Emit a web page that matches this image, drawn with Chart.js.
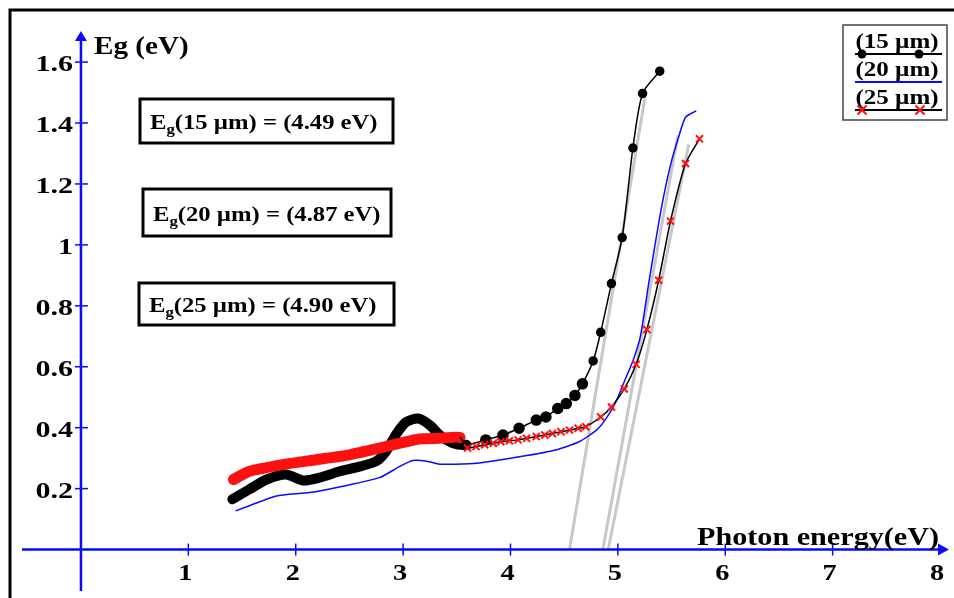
<!DOCTYPE html>
<html>
<head>
<meta charset="utf-8">
<script src="https://cdn.jsdelivr.net/npm/chart.js@4.4.1/dist/chart.umd.min.js"></script>
<style>
  body { margin: 0; background: #fff; }
  #wrap { width: 954px; height: 598px; position: relative; }
</style>
</head>
<body>
<div id="wrap"><canvas id="chartCanvas" width="954" height="598"></canvas></div>
<script>
// series: photon energy (eV) vs Eg (eV)
let seriesNames = ['(15 µm)', '(20 µm)', '(25 µm)'];
let gapValues = ['4.49', '4.87', '4.90'];
let boxThick = ['15 µm', '20 µm', '25 µm'];

let x15 = [1.41, 1.57, 1.73, 1.91, 2.07, 2.22, 2.41, 2.60, 2.75, 2.84, 2.94, 3.03, 3.14, 3.25, 3.34, 3.46, 3.59,
           3.77, 3.93, 4.08, 4.24, 4.33, 4.44, 4.52, 4.60, 4.67, 4.77, 4.84, 4.94, 5.04, 5.14, 5.23, 5.39];
let y15 = [0.165, 0.198, 0.230, 0.246, 0.227, 0.236, 0.257, 0.273, 0.290, 0.322, 0.381, 0.419, 0.430, 0.408, 0.376, 0.350, 0.344,
           0.360, 0.376, 0.398, 0.425, 0.435, 0.463, 0.479, 0.506, 0.544, 0.619, 0.713, 0.873, 1.024, 1.318, 1.497, 1.570];

let x20 = [1.44, 1.57, 1.82, 2.13, 2.44, 2.78, 2.97, 3.09, 3.22, 3.34, 3.56, 3.71, 4.11, 4.42, 4.64, 4.80, 4.89, 4.98,
           5.07, 5.14, 5.21, 5.29, 5.40, 5.49, 5.57, 5.63, 5.73];
let y20 = [0.127, 0.144, 0.176, 0.187, 0.208, 0.236, 0.273, 0.292, 0.290, 0.280, 0.281, 0.284, 0.306, 0.327, 0.354, 0.392, 0.430, 0.484,
           0.560, 0.619, 0.700, 0.880, 1.111, 1.262, 1.359, 1.419, 1.440];

let x25 = [1.42, 1.57, 1.88, 2.19, 2.50, 2.78, 2.97, 3.15, 3.34, 3.53,
           3.60, 3.68, 3.76, 3.84, 3.91, 3.99, 4.07, 4.15, 4.24, 4.32, 4.39, 4.47, 4.55, 4.63, 4.70,
           4.84, 4.94, 5.06, 5.17, 5.27, 5.38, 5.49, 5.63, 5.76];
let y25 = [0.230, 0.257, 0.279, 0.295, 0.311, 0.333, 0.349, 0.363, 0.365, 0.368,
           0.333, 0.338, 0.344, 0.349, 0.354, 0.357, 0.360, 0.365, 0.371, 0.376, 0.381, 0.387, 0.392, 0.398, 0.403,
           0.435, 0.468, 0.527, 0.608, 0.722, 0.884, 1.078, 1.267, 1.348];

// gray extrapolation lines [x0, y0, x1, y1]
let fit15 = [4.55, 0, 5.26, 1.50];
let fit20 = [4.86, 0, 5.56, 1.36];
let fit25 = [4.91, 0, 5.66, 1.33];

let xTicks = [1, 2, 3, 4, 5, 6, 7, 8];
let yTicks = [0.2, 0.4, 0.6, 0.8, 1, 1.2, 1.4, 1.6];

const SX = 1.18;
const SERIF = '"Liberation Serif", "Times New Roman", serif';
const AXIS_BLUE = '#0a0aff';

function pts(xs, ys) {
    return xs.map((x, i) => ({ x: x, y: ys[i] }));
}
function fitPts(f) {
    return [{ x: f[0], y: f[1] }, { x: f[2], y: f[3] }];
}

function txt(ctx, s, x, y, size, align, sx) {
    sx = sx || SX;
    ctx.save();
    ctx.font = 'bold ' + size + 'px ' + SERIF;
    let w = ctx.measureText(s).width * sx;
    let x0 = align === 'right' ? x - w : (align === 'center' ? x - w / 2 : x);
    ctx.translate(x0, y);
    ctx.scale(sx, 1);
    ctx.textAlign = 'left';
    ctx.textBaseline = 'alphabetic';
    ctx.fillStyle = '#000';
    ctx.fillText(s, 0, 0);
    ctx.restore();
    return w;
}

function crossMark(ctx, x, y, r) {
    ctx.save();
    ctx.strokeStyle = '#ff1010';
    ctx.lineWidth = 2;
    ctx.beginPath();
    ctx.moveTo(x - r, y - r); ctx.lineTo(x + r, y + r);
    ctx.moveTo(x + r, y - r); ctx.lineTo(x - r, y + r);
    ctx.stroke();
    ctx.restore();
}

const decor = {
    id: 'decor',
    afterDraw(chart) {
        let ctx = chart.ctx;
        let xs = chart.scales.x, ys = chart.scales.y;
        let ca = chart.chartArea;
        let x0 = xs.getPixelForValue(0), y0 = ys.getPixelForValue(0);

        // frame
        ctx.save();
        ctx.strokeStyle = '#000';
        ctx.lineWidth = 3;
        ctx.beginPath();
        ctx.moveTo(10, 598); ctx.lineTo(10, 10); ctx.lineTo(954, 10);
        ctx.stroke();

        // axes
        ctx.strokeStyle = AXIS_BLUE;
        ctx.fillStyle = AXIS_BLUE;
        ctx.lineWidth = 2.5;
        ctx.beginPath();
        ctx.moveTo(x0, ca.bottom); ctx.lineTo(x0, ca.top + 6);
        ctx.moveTo(ca.left, y0); ctx.lineTo(ca.right - 6, y0);
        ctx.stroke();
        ctx.beginPath();
        ctx.moveTo(x0, ca.top); ctx.lineTo(x0 - 6, ca.top + 10); ctx.lineTo(x0 + 6, ca.top + 10); ctx.closePath();
        ctx.fill();
        ctx.beginPath();
        ctx.moveTo(ca.right + 2, y0); ctx.lineTo(ca.right - 9, y0 - 6); ctx.lineTo(ca.right - 9, y0 + 6); ctx.closePath();
        ctx.fill();

        ctx.lineWidth = 1.5;
        xTicks.forEach(t => {
            let px = xs.getPixelForValue(t);
            if (t < 8) {
                ctx.beginPath(); ctx.moveTo(px, y0 - 6); ctx.lineTo(px, y0 + 6); ctx.stroke();
            }
            txt(ctx, String(t), px - 3, y0 + 30, 24, 'center');
        });
        yTicks.forEach(t => {
            let py = ys.getPixelForValue(t);
            ctx.beginPath(); ctx.moveTo(x0 - 6, py); ctx.lineTo(x0 + 7, py); ctx.stroke();
            txt(ctx, String(t), x0 - 8, py + 9, 24, 'right', 1.25);
        });
        ctx.restore();

        // axis titles
        txt(ctx, 'Eg (eV)', 94, 54, 26, 'left', 1.12);
        txt(ctx, 'Photon energy(eV)', 697, 545, 26, 'left', 1.16);

        // Eg boxes
        let boxes = [[140, 99, 253, 44], [143, 189, 248, 47], [139, 283, 255, 42]];
        boxes.forEach((b, i) => {
            ctx.save();
            ctx.fillStyle = '#fff';
            ctx.fillRect(b[0], b[1], b[2], b[3]);
            ctx.strokeStyle = '#000';
            ctx.lineWidth = 3;
            ctx.strokeRect(b[0], b[1], b[2], b[3]);
            ctx.restore();
            let by = b[1] + b[3] / 2 + 8;
            let cx = b[0] + 10;
            cx += txt(ctx, 'E', cx, by, 22, 'left', 1.12);
            cx += txt(ctx, 'g', cx, by + 5, 15, 'left', 1.12);
            txt(ctx, '(' + boxThick[i] + ') = (' + gapValues[i] + ' eV)', cx, by, 22, 'left', 1.12);
        });

        // legend
        ctx.save();
        ctx.fillStyle = '#fff';
        ctx.fillRect(843, 25, 104, 95);
        ctx.strokeStyle = '#444';
        ctx.lineWidth = 1.5;
        ctx.strokeRect(843, 25, 104, 95);
        ctx.restore();
        let rows = [48, 76, 104];
        seriesNames.forEach((n, i) => {
            txt(ctx, n, 897, rows[i], 20, 'center', 1.25);
            let ly = rows[i] + 6;
            ctx.save();
            ctx.lineWidth = 2;
            ctx.strokeStyle = i === 1 ? AXIS_BLUE : '#000';
            ctx.beginPath(); ctx.moveTo(855, ly); ctx.lineTo(942, ly); ctx.stroke();
            if (i === 0) {
                ctx.fillStyle = '#000';
                [862, 919].forEach(px => { ctx.beginPath(); ctx.arc(px, ly, 4.5, 0, Math.PI * 2); ctx.fill(); });
            }
            ctx.restore();
            if (i === 2) {
                [862, 920].forEach(px => crossMark(ctx, px, ly, 4.5));
            }
        });
    }
};

let ctx = document.getElementById('chartCanvas').getContext('2d');
let chart = new Chart(ctx, {
    type: 'scatter',
    data: {
        datasets: [
            {
                label: seriesNames[2],
                data: pts(x25, y25),
                showLine: true,
                borderColor: '#000',
                borderWidth: 1.5,
                pointStyle: 'crossRot',
                pointBorderColor: '#ff1010',
                pointBorderWidth: 2,
                pointRadius: c => (c.raw && c.raw.x <= 3.55 ? 0 : 5),
                tension: 0.2,
                borderCapStyle: 'round',
                borderJoinStyle: 'round',
                segment: {
                    borderWidth: c => (c.p1.parsed.x <= 3.55 ? 11 : 1.5),
                    borderColor: c => (c.p1.parsed.x <= 3.55 ? '#ff1010' : '#000')
                }
            },
            {
                label: seriesNames[0],
                data: pts(x15, y15),
                showLine: true,
                borderColor: '#000',
                borderWidth: 1.5,
                pointBackgroundColor: '#000',
                pointBorderColor: '#000',
                pointRadius: c => (c.raw && c.raw.x < 3.6 ? 0 : (c.raw && c.raw.x < 4.7 ? 5 : 4)),
                tension: 0.25,
                borderCapStyle: 'round',
                borderJoinStyle: 'round',
                segment: {
                    borderWidth: c => (c.p1.parsed.x <= 3.59 ? 10 : 1.5)
                }
            },
            {
                label: seriesNames[1],
                data: pts(x20, y20),
                showLine: true,
                borderColor: AXIS_BLUE,
                borderWidth: 1.5,
                pointRadius: 0,
                tension: 0.2
            },
            { data: fitPts(fit15), showLine: true, borderColor: '#c8c8c8', borderWidth: 3, pointRadius: 0 },
            { data: fitPts(fit20), showLine: true, borderColor: '#c8c8c8', borderWidth: 3, pointRadius: 0 },
            { data: fitPts(fit25), showLine: true, borderColor: '#c8c8c8', borderWidth: 3, pointRadius: 0 }
        ]
    },
    options: {
        responsive: false,
        animation: false,
        layout: { padding: { left: 22, right: 6, top: 31, bottom: 0 } },
        plugins: { legend: { display: false }, tooltip: { enabled: false } },
        scales: {
            x: { type: 'linear', min: -0.549, max: 8.065, display: false },
            y: { type: 'linear', min: -0.136, max: 1.702, display: false }
        }
    },
    plugins: [decor]
});
</script>
</body>
</html>
